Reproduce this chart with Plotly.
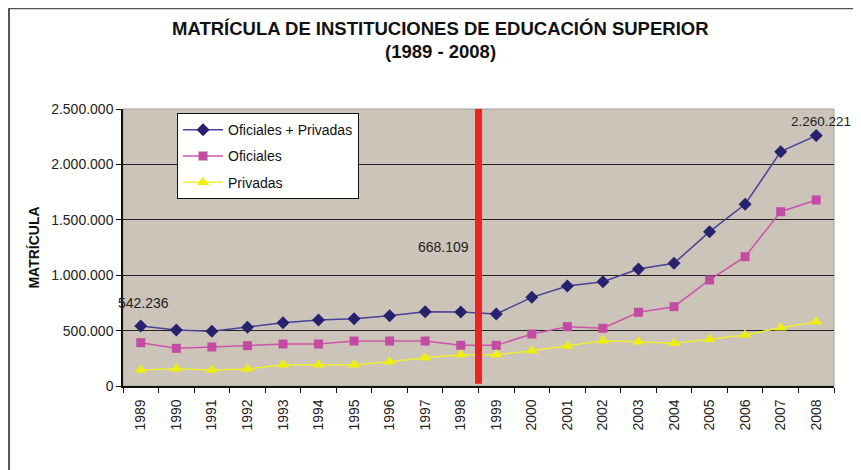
import plotly.graph_objects as go

years = [str(y) for y in range(1989, 2009)]
total = [542236, 505000, 495000, 530000, 571000, 595000, 607000, 634000, 671000, 668109,
         650000, 800000, 902000, 941000, 1056000, 1107000, 1393000, 1640000, 2115000, 2260221]
oficiales = [391000, 340000, 352000, 364000, 379000, 379000, 406000, 406000, 406000, 367000,
             367000, 469000, 535000, 521000, 665000, 716000, 957000, 1167000, 1573000, 1679000]
privadas = [144000, 156000, 144000, 153000, 192000, 192000, 192000, 219000, 255000, 282000,
            282000, 319000, 361000, 409000, 400000, 385000, 421000, 460000, 526000, 580000]
names = ["Oficiales + Privadas", "Oficiales", "Privadas"]
title_lines = ["MATRÍCULA DE INSTITUCIONES DE EDUCACIÓN SUPERIOR", "(1989 - 2008)"]
y_title = "MATRÍCULA"
labels = ["542.236", "668.109", "2.260.221"]

fig = go.Figure()
fig.add_trace(go.Scatter(x=years, y=total, name=names[0], mode="lines+markers", legendgroup="a",
                         line=dict(color="#4B3F98", width=1.5),
                         marker=dict(symbol="diamond", size=10, color="#26226E")))
fig.add_trace(go.Scatter(x=years, y=oficiales, name=names[1], mode="lines+markers", legendgroup="b",
                         line=dict(color="#CC55AA", width=1.5),
                         marker=dict(symbol="square", size=9, color="#C24CA3")))
fig.add_trace(go.Scatter(x=years, y=privadas, name=names[2], mode="lines+markers", legendgroup="c",
                         line=dict(color="#EEEE33", width=1.5),
                         marker=dict(symbol="triangle-up", size=11, color="#EEEE10")))

# red separator line between 1998 and 1999
fig.add_shape(type="line", xref="x", yref="paper", x0=9.5, x1=9.5, y0=0.008, y1=1,
              line=dict(color="#EE2222", width=7), layer="above")
# plot-area border (light)
fig.add_shape(type="rect", xref="paper", yref="paper", x0=0, x1=1, y0=0, y1=1,
              line=dict(color="#A0A0A0", width=1), layer="below")
# outer frame
fig.add_shape(type="rect", xref="paper", yref="paper", x0=-0.1603, x1=1.06, y0=-0.4, y1=1.364,
              line=dict(color="#555555", width=2))

font_t = "Liberation Sans Narrow, Arial Narrow, Liberation Sans, Arial"
fig.add_annotation(text="<b>" + title_lines[0] + "</b>", xref="paper", yref="paper", x=0.446, y=1.292,
                   showarrow=False, font=dict(family=font_t, size=18.5, color="#111111"),
                   xanchor="center", yanchor="middle")
fig.add_annotation(text="<b>" + title_lines[1] + "</b>", xref="paper", yref="paper", x=0.446, y=1.206,
                   showarrow=False, font=dict(family=font_t, size=18.5, color="#111111"),
                   xanchor="center", yanchor="middle")

lab_font = dict(family="Liberation Sans, Arial", size=14, color="#222222")
fig.add_annotation(text=labels[0], x=0, y=total[0], yshift=23, xshift=3, showarrow=False,
                   font=lab_font, xanchor="center", yanchor="middle")
fig.add_annotation(text=labels[1], x=9, y=total[9], yshift=65, xshift=10, showarrow=False,
                   font=lab_font, xanchor="right", yanchor="middle")
fig.add_annotation(text=labels[2], x=19, y=total[19], yshift=14, xshift=5,
                   showarrow=False, font=dict(family="Liberation Sans, Arial", size=13.5,
                                              color="#222222"),
                   xanchor="center", yanchor="middle")

fig.update_layout(
    width=853, height=462,
    margin=dict(l=115, r=27, t=101, b=84),
    paper_bgcolor="white",
    plot_bgcolor="#CCC4B9",
    separators=",.",
    font=dict(family="Liberation Sans, Arial", size=12, color="#222222"),
    showlegend=True,
    legend=dict(x=0.076, y=0.985, xanchor="left", yanchor="top",
                bgcolor="white", bordercolor="#111111", borderwidth=1,
                font=dict(size=14, color="#111111"), itemwidth=40,
                tracegroupgap=5),
    xaxis=dict(type="category", tickson="boundaries", ticks="outside", ticklen=5,
               tickcolor="#111111", showline=True, linecolor="#111111", linewidth=1.5,
               tickangle=-90, showgrid=False, tickfont=dict(size=14, color="#222222"),
               ticklabelstandoff=6, range=[-0.5, 19.5]),
    yaxis=dict(range=[0, 2500000], dtick=500000, tickformat=",d", ticks="outside",
               ticklen=5, tickcolor="#111111", showline=True, linecolor="#111111",
               linewidth=1.5, gridcolor="#222222", gridwidth=1,
               tickfont=dict(size=14, color="#222222"),
               title=dict(text="<b>" + y_title + "</b>",
                          font=dict(size=14, color="#111111", family="Liberation Sans, Arial"),
                          standoff=8)),
)

fig.write_html("out.html")
